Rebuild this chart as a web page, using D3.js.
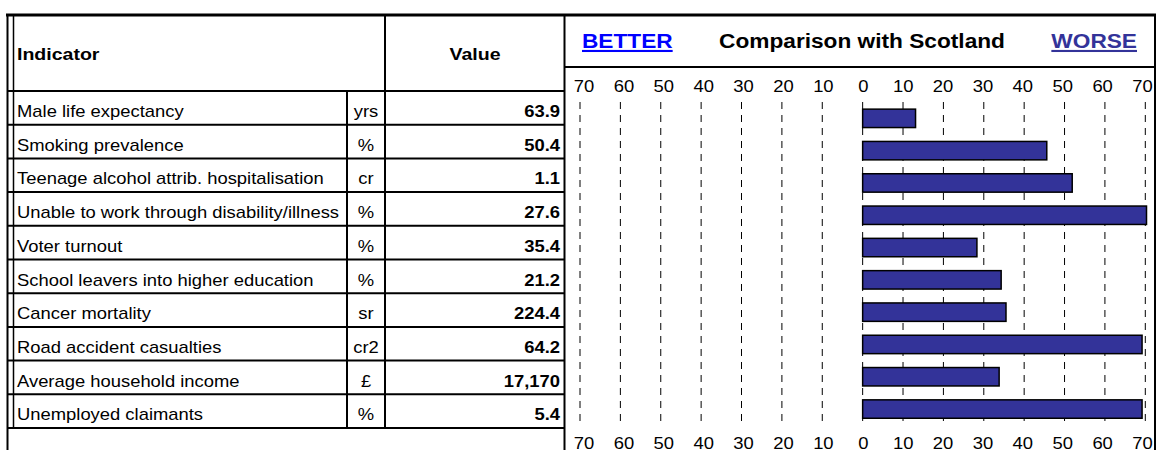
<!DOCTYPE html>
<html><head><meta charset="utf-8">
<script src="https://cdn.jsdelivr.net/npm/d3@7"></script>
<style>
body{margin:0;background:#fff}
svg{display:block}
text{font-family:Arial,"Liberation Sans",sans-serif;fill:#000}
</style>
</head><body>
<svg id="c" width="1156" height="450"></svg>
<script>
const indicators = [
  "Male life expectancy",
  "Smoking prevalence",
  "Teenage alcohol attrib. hospitalisation",
  "Unable to work through disability/illness",
  "Voter turnout",
  "School leavers into higher education",
  "Cancer mortality",
  "Road accident casualties",
  "Average household income",
  "Unemployed claimants"
];
const units = ["yrs","%","cr","%","%","%","sr","cr2","£","%"];
const values = ["63.9","50.4","1.1","27.6","35.4","21.2","224.4","64.2","17,170","5.4"];
const comparison = [13.1,45.6,51.9,70.3,28.3,34.3,35.5,69.2,33.8,69.2];
const tickValues = [-70,-60,-50,-40,-30,-20,-10,0,10,20,30,40,50,60,70];
const headerIndicator = "Indicator";
const headerValue = "Value";
const titleBetter = "BETTER";
const titleMain = "Comparison with Scotland";
const titleWorse = "WORSE";

(function () {
const SX = 1.15;
const svg = d3.select("#c");

const x = d3.scaleLinear().domain([-70, 70]).range([580, 1145.3]);
const xLab = x.copy().range([583.5, 1142]);
const yRow = d3.scaleBand().domain(indicators).range([91, 428]);
const yBar = d3.scaleBand().domain(indicators).range([102.2, 425.2])
  .paddingInner(0.43).paddingOuter(0.215);

// ---------- table lines ----------
const L = svg.append("g").attr("stroke", "#000");
function line(x1, y1, x2, y2, w) {
  L.append("line").attr("x1", x1).attr("y1", y1).attr("x2", x2).attr("y2", y2)
    .attr("stroke-width", w);
}
line(6, 15, 1156, 15, 3);          // top border
line(7.5, 15, 7.5, 450, 2);        // outer left
line(13.5, 15, 13.5, 428, 1.5);    // inner left
line(7, 91, 564, 91, 2);           // header bottom
indicators.forEach(d => {
  const yy = yRow(d) + yRow.bandwidth();
  line(7, yy, 564, yy, 2);
});
line(347, 91, 347, 428, 2);        // unit column
line(385, 15, 385, 428, 2);        // value column
line(564.5, 15, 564.5, 450, 2);    // chart panel left
line(1155, 15, 1155, 450, 2);      // chart panel right
line(564, 67, 1155, 67, 2);        // header separator

// ---------- headers ----------
function txt(g, s, tx, ty, anchor, size, weight, color, sx) {
  return g.append("text")
    .attr("transform", `translate(${tx},${ty}) scale(${sx || SX},1)`)
    .attr("text-anchor", anchor)
    .attr("font-size", size)
    .attr("font-weight", weight)
    .style("fill", color || "#000")
    .text(s);
}
const H = svg.append("g");
txt(H, headerIndicator, 17, 60, "start", 17, "bold");
txt(H, headerValue, 475, 60, "middle", 17, "bold");

txt(H, titleBetter, 582, 48, "start", 21, "bold", "#0000FF", 1.08)
  .attr("text-decoration", "underline");
txt(H, titleMain, 862, 48, "middle", 21, "bold", "#000", 1.08);
txt(H, titleWorse, 1137, 48, "end", 21, "bold", "#333399", 1.08)
  .attr("text-decoration", "underline");

// ---------- rows ----------
const R = svg.append("g");
indicators.forEach((d, i) => {
  const base = yRow(d) + 26;
  txt(R, d, 17, base, "start", 16, "normal");
  txt(R, units[i], 366, base, "middle", 16, "normal");
  txt(R, values[i], 560, base, "end", 16, "bold");
});

// ---------- grid ----------
svg.append("g").selectAll("line").data(tickValues).join("line")
  .attr("x1", d => x(d)).attr("x2", d => x(d))
  .attr("y1", 102).attr("y2", 426)
  .attr("stroke", "#000").attr("stroke-width", 1)
  .attr("stroke-dasharray", "7,6");

// ---------- axes ----------
const fmt = d => Math.abs(d);
const axTop = svg.append("g").attr("transform", "translate(0,92)")
  .call(d3.axisTop(xLab).tickValues(tickValues).tickFormat(fmt).tickSize(0).tickPadding(0));
const axBot = svg.append("g").attr("transform", "translate(0,448.5)")
  .call(d3.axisBottom(xLab).tickValues(tickValues).tickFormat(fmt).tickSize(0).tickPadding(0));
[axTop, axBot].forEach(g => {
  g.select(".domain").remove();
  g.selectAll("text")
    .attr("y", 0).attr("dy", 0)
    .attr("font-size", 16)
    .attr("font-family", "Arial, 'Liberation Sans', sans-serif")
    .attr("transform", `scale(${SX},1)`)
    .style("fill", "#000");
});

// ---------- bars ----------
svg.append("g").selectAll("rect").data(indicators).join("rect")
  .attr("x", x(0))
  .attr("y", d => yBar(d))
  .attr("width", (d, i) => x(comparison[i]) - x(0))
  .attr("height", yBar.bandwidth())
  .attr("fill", "#333399")
  .attr("stroke", "#000")
  .attr("stroke-width", 1.5);
})();
</script>
</body></html>
